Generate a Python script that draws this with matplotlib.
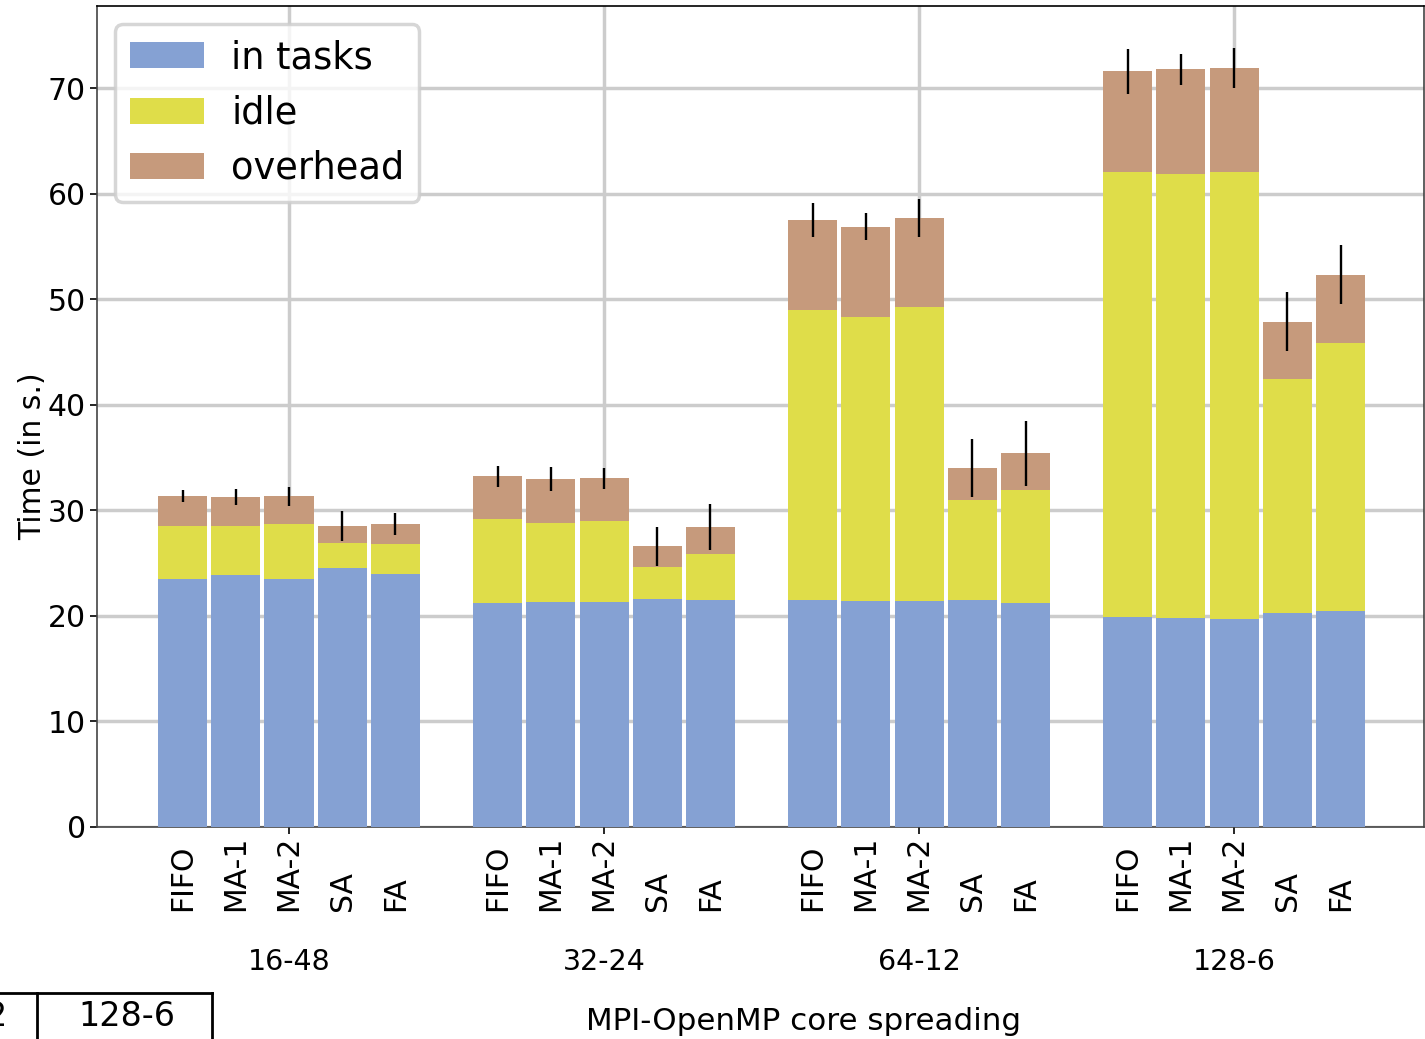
import numpy as np
import matplotlib
matplotlib.use("Agg")
import matplotlib.pyplot as plt
from matplotlib.lines import Line2D

# -------------------------------------------------------------------
# Data
# -------------------------------------------------------------------
groups = ["16-48", "32-24", "64-12", "128-6"]
schedulers = ["FIFO", "MA-1", "MA-2", "SA", "FA"]

in_tasks = [
    [23.5, 23.9, 23.5, 24.5, 24.0],
    [21.2, 21.3, 21.3, 21.6, 21.5],
    [21.5, 21.4, 21.4, 21.5, 21.2],
    [19.9, 19.8, 19.7, 20.3, 20.5],
]
idle = [
    [5.0, 4.6, 5.2, 2.4, 2.8],
    [8.0, 7.5, 7.7, 3.0, 4.4],
    [27.5, 26.9, 27.9, 9.5, 10.7],
    [42.2, 42.1, 42.4, 22.2, 25.4],
]
overhead = [
    [2.85, 2.75, 2.65, 1.6, 1.9],
    [4.05, 4.15, 4.05, 2.0, 2.55],
    [8.5, 8.6, 8.4, 3.0, 3.5],
    [9.5, 9.9, 9.8, 5.4, 6.45],
]
err = [
    [0.55, 0.75, 0.9, 1.4, 1.05],
    [1.0, 1.15, 1.0, 1.85, 2.2],
    [1.6, 1.3, 1.8, 2.75, 3.1],
    [2.15, 1.45, 1.9, 2.8, 2.8],
]

colors = {"in tasks": "#85a1d3", "idle": "#dfdd49", "overhead": "#c69a7c"}

# -------------------------------------------------------------------
# Plot
# -------------------------------------------------------------------
W, H = 1425, 1039
fig = plt.figure(figsize=(W / 100, H / 100), dpi=100)
ax = fig.add_axes([97 / W, 1 - 827 / H, (1424 - 97) / W, (827 - 6) / H])

step, width = 0.169, 0.1556
fs = 21.5

for gi, g in enumerate(groups):
    xs = gi + (np.arange(len(schedulers)) - 2) * step
    t = np.array(in_tasks[gi])
    i = np.array(idle[gi])
    o = np.array(overhead[gi])
    ax.bar(xs, t, width, color=colors["in tasks"], zorder=3,
           label="in tasks" if gi == 0 else None)
    ax.bar(xs, i, width, bottom=t, color=colors["idle"], zorder=3,
           label="idle" if gi == 0 else None)
    ax.bar(xs, o, width, bottom=t + i, color=colors["overhead"], zorder=3,
           label="overhead" if gi == 0 else None)
    ax.errorbar(xs, t + i + o, yerr=err[gi], fmt="none", ecolor="black",
                elinewidth=1.7, capsize=0, zorder=4)
    for x, name in zip(xs, schedulers):
        ax.text(x, -8, name, rotation=90, ha="center", va="bottom",
                fontsize=fs, clip_on=False)
    ax.text(gi, -12.8, g, ha="center", va="center", fontsize=20.5, clip_on=False)

ax.set_xlim(-0.6095, 3.603)
ax.set_ylim(0, 77.8)
ax.set_xticks(range(len(groups)))
ax.set_xticklabels([])
ax.set_yticks(np.arange(0, 80, 10))
ax.tick_params(axis="y", labelsize=fs, length=5, width=1.2, pad=3)
ax.tick_params(axis="x", length=5, width=1.2)
ax.grid(True, color="#cccccc", linewidth=2.5, zorder=0)
ax.set_axisbelow(True)
ax.spines["top"].set_color("black")
for s in ["left", "right", "bottom"]:
    ax.spines[s].set_color("#444444")
for s in ax.spines.values():
    s.set_linewidth(1.2)

leg = ax.legend(loc="upper left", fontsize=26.5, framealpha=0.8,
                fancybox=True, edgecolor="#cccccc", handletextpad=0.75)
leg.get_frame().set_linewidth(2.5)

fig.text(33 / W, 1 - 456 / H, "Time (in s.)", rotation=90, ha="center",
         va="center", fontsize=fs)
fig.text(804 / W, 1 - 1021 / H, "MPI-OpenMP core spreading", ha="center",
         va="center", fontsize=22.3)

# stray table fragment at the bottom-left corner
tf = fig.transFigure
fig.add_artist(Line2D([0, 212 / W], [1 - 993 / H] * 2, color="black", lw=2, transform=tf))
fig.add_artist(Line2D([37 / W] * 2, [0, 1 - 993 / H], color="black", lw=2, transform=tf))
fig.add_artist(Line2D([212 / W] * 2, [0, 1 - 993 / H], color="black", lw=2, transform=tf))
fig.text(127 / W, 1 - 1016 / H, "128-6", ha="center", va="center", fontsize=24)
fig.text(7 / W, 1 - 1016 / H, "2", ha="right", va="center", fontsize=24)

fig.savefig("out.png", dpi=100)
